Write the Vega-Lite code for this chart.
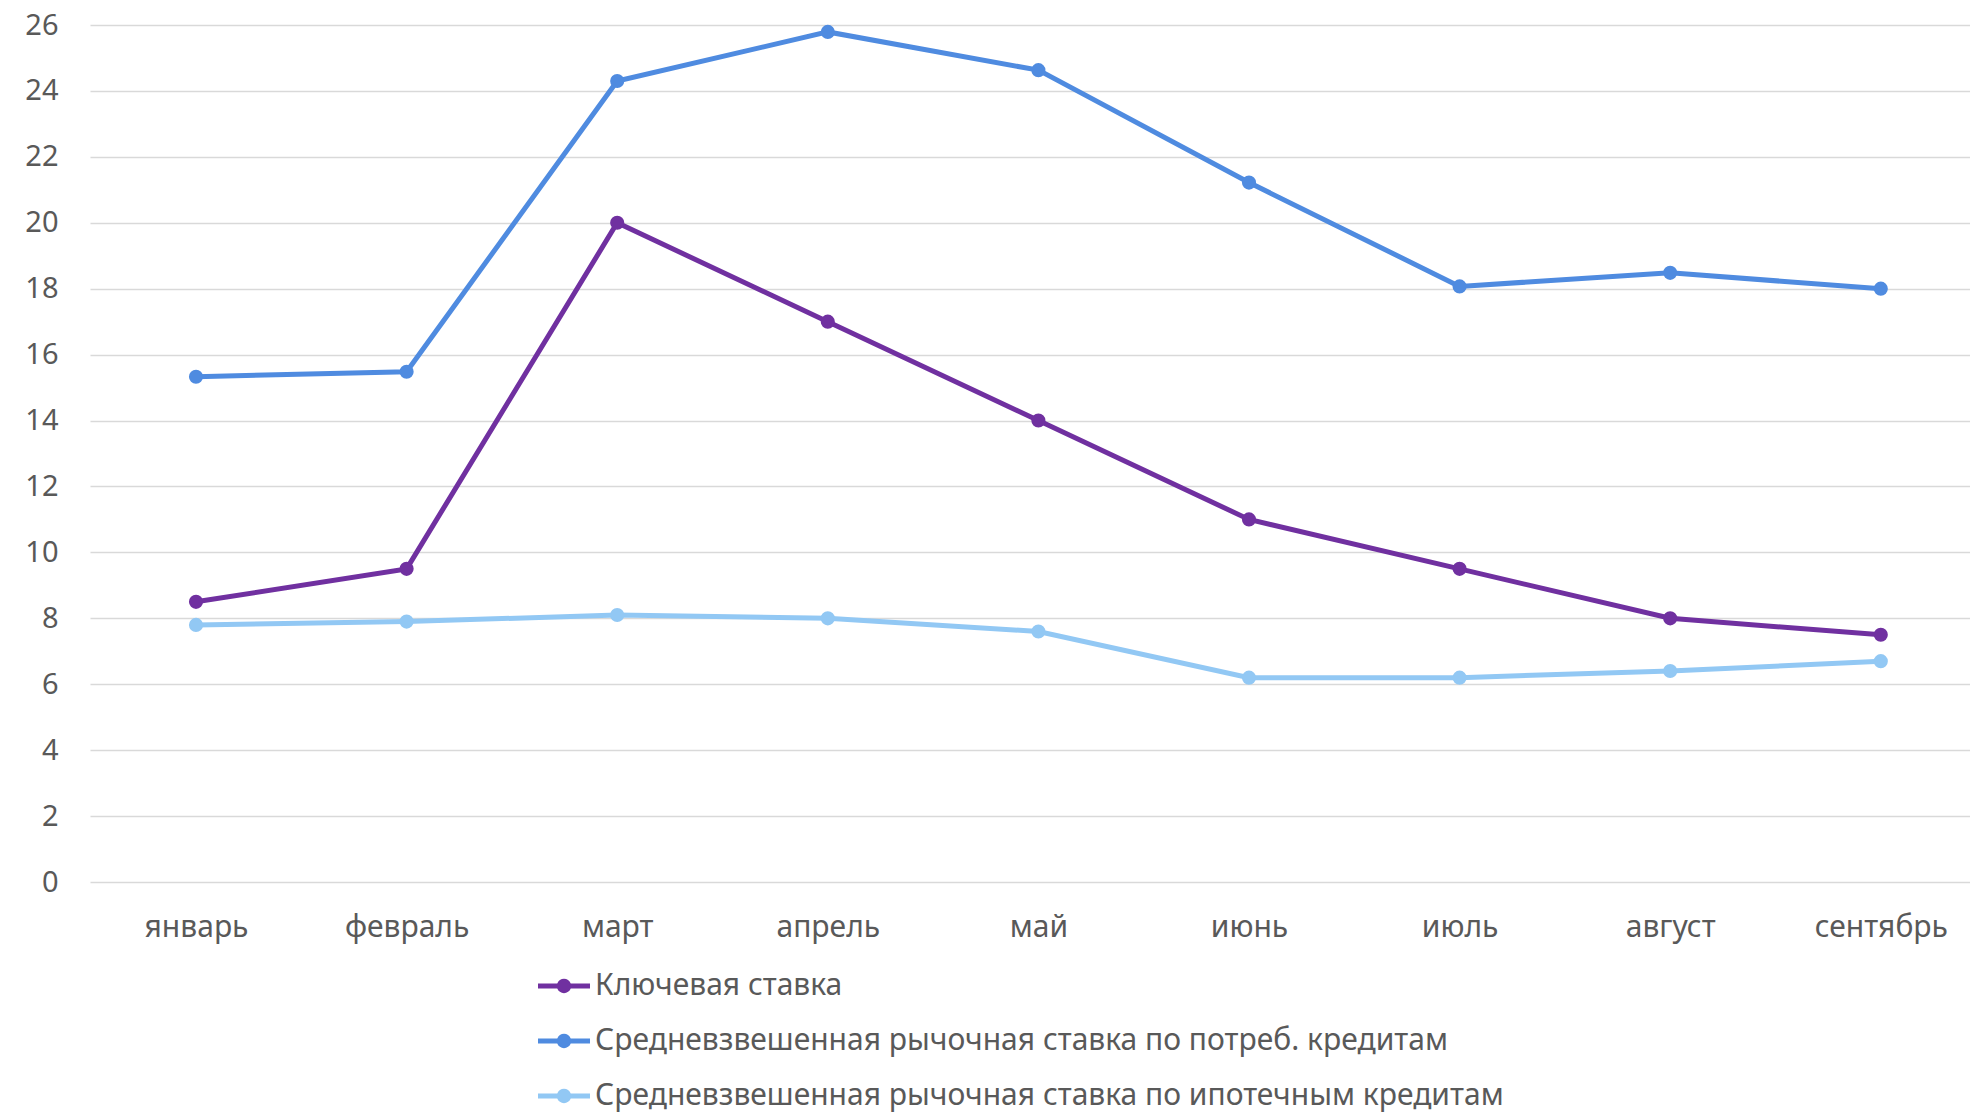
{
  "$schema": "https://vega.github.io/schema/vega-lite/v6.json",
  "width": 1880,
  "height": 857,
  "autosize": "none",
  "padding": {"left": 90, "top": 25, "right": 0, "bottom": 234},
  "background": "white",
  "config": {
    "view": {"stroke": null},
    "font": "Noto Sans"
  },
  "data": {
    "values": [
      {"month": "январь", "series": "Ключевая ставка", "rate": 8.5},
      {"month": "февраль", "series": "Ключевая ставка", "rate": 9.5},
      {"month": "март", "series": "Ключевая ставка", "rate": 20},
      {"month": "апрель", "series": "Ключевая ставка", "rate": 17},
      {"month": "май", "series": "Ключевая ставка", "rate": 14},
      {"month": "июнь", "series": "Ключевая ставка", "rate": 11},
      {"month": "июль", "series": "Ключевая ставка", "rate": 9.5},
      {"month": "август", "series": "Ключевая ставка", "rate": 8},
      {"month": "сентябрь", "series": "Ключевая ставка", "rate": 7.5},
      {"month": "январь", "series": "Средневзвешенная рычочная ставка по потреб. кредитам", "rate": 15.33},
      {"month": "февраль", "series": "Средневзвешенная рычочная ставка по потреб. кредитам", "rate": 15.48},
      {"month": "март", "series": "Средневзвешенная рычочная ставка по потреб. кредитам", "rate": 24.3},
      {"month": "апрель", "series": "Средневзвешенная рычочная ставка по потреб. кредитам", "rate": 25.79},
      {"month": "май", "series": "Средневзвешенная рычочная ставка по потреб. кредитам", "rate": 24.63},
      {"month": "июнь", "series": "Средневзвешенная рычочная ставка по потреб. кредитам", "rate": 21.22},
      {"month": "июль", "series": "Средневзвешенная рычочная ставка по потреб. кредитам", "rate": 18.07},
      {"month": "август", "series": "Средневзвешенная рычочная ставка по потреб. кредитам", "rate": 18.48},
      {"month": "сентябрь", "series": "Средневзвешенная рычочная ставка по потреб. кредитам", "rate": 18.0},
      {"month": "январь", "series": "Средневзвешенная рычочная ставка по ипотечным кредитам", "rate": 7.8},
      {"month": "февраль", "series": "Средневзвешенная рычочная ставка по ипотечным кредитам", "rate": 7.9},
      {"month": "март", "series": "Средневзвешенная рычочная ставка по ипотечным кредитам", "rate": 8.1},
      {"month": "апрель", "series": "Средневзвешенная рычочная ставка по ипотечным кредитам", "rate": 8.0},
      {"month": "май", "series": "Средневзвешенная рычочная ставка по ипотечным кредитам", "rate": 7.6},
      {"month": "июнь", "series": "Средневзвешенная рычочная ставка по ипотечным кредитам", "rate": 6.2},
      {"month": "июль", "series": "Средневзвешенная рычочная ставка по ипотечным кредитам", "rate": 6.2},
      {"month": "август", "series": "Средневзвешенная рычочная ставка по ипотечным кредитам", "rate": 6.4},
      {"month": "сентябрь", "series": "Средневзвешенная рычочная ставка по ипотечным кредитам", "rate": 6.7}
    ]
  },
  "encoding": {
    "x": {
      "field": "month",
      "type": "nominal",
      "sort": null,
      "scale": {"type": "point", "padding": 0.4635, "align": 0.543},
      "axis": {
        "title": null,
        "labelAngle": 0,
        "domain": false,
        "ticks": false,
        "grid": false,
        "labelFontSize": 30,
        "labelColor": "#595959",
        "labelPadding": 30
      }
    },
    "y": {
      "field": "rate",
      "type": "quantitative",
      "scale": {"domain": [0, 26], "nice": false},
      "axis": {
        "title": null,
        "values": [0, 2, 4, 6, 8, 10, 12, 14, 16, 18, 20, 22, 24, 26],
        "domain": false,
        "ticks": false,
        "gridColor": "#d9d9d9",
        "gridWidth": 1.5,
        "labelFontSize": 29,
        "labelColor": "#595959",
        "labelPadding": 32
      }
    },
    "color": {
      "field": "series",
      "type": "nominal",
      "sort": null,
      "scale": {
        "domain": [
          "Ключевая ставка",
          "Средневзвешенная рычочная ставка по потреб. кредитам",
          "Средневзвешенная рычочная ставка по ипотечным кредитам"
        ],
        "range": ["#7030A0", "#4F8BE0", "#92C8F4"]
      },
      "legend": {
        "title": null,
        "orient": "none",
        "legendX": 448,
        "legendY": 935,
        "direction": "vertical",
        "symbolType": "M -1 -0.1 L -0.26 -0.1 A 0.28 0.28 0 0 1 0.26 -0.1 L 1 -0.1 L 1 0.1 L 0.26 0.1 A 0.28 0.28 0 0 1 -0.26 0.1 L -1 0.1 Z",
        "symbolSize": 2704,
        "symbolStrokeWidth": 0,
        "symbolOpacity": 1,
        "labelFontSize": 30,
        "labelColor": "#595959",
        "labelOffset": 5,
        "labelLimit": 2000,
        "rowPadding": 14,
        "encode": {
          "symbols": {
            "update": {
              "fill": {"scale": "color", "field": "value"},
              "stroke": {"value": "transparent"},
              "opacity": {"value": 1}
            }
          }
        }
      }
    }
  },
  "layer": [
    {"mark": {"type": "line", "strokeWidth": 5}},
    {"mark": {"type": "point", "filled": true, "size": 200, "opacity": 1}}
  ]
}
